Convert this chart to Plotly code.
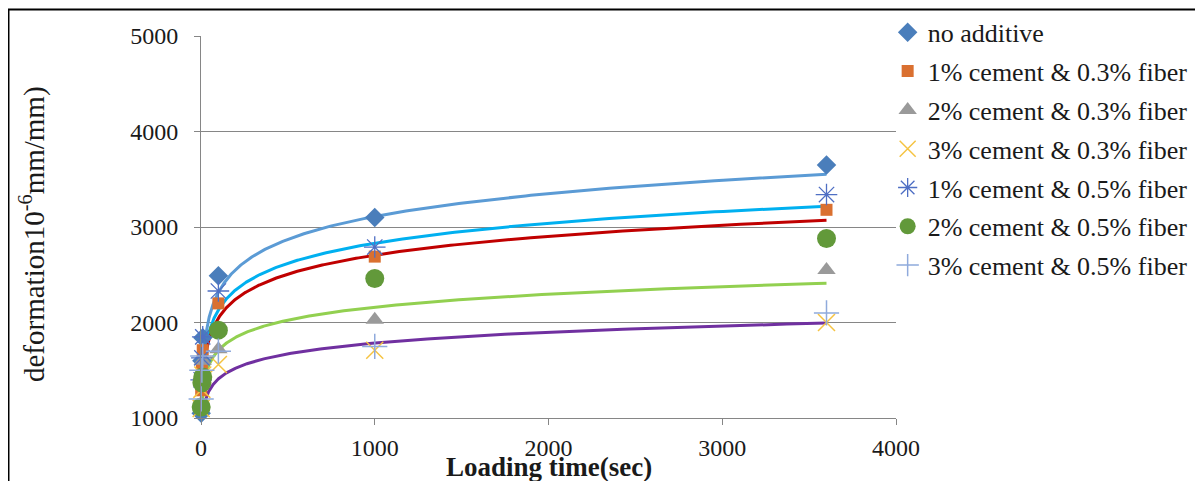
import numpy as np
import plotly.graph_objects as go

# ---- data ----
times = [1, 5, 10, 100, 1000, 3600]

series_names = [
    "no additive",
    "1% cement & 0.3% fiber",
    "2% cement & 0.3% fiber",
    "3% cement & 0.3% fiber",
    "1% cement & 0.5% fiber",
    "2% cement & 0.5% fiber",
    "3% cement & 0.5% fiber",
]
no_additive = [1050, 1600, 1840, 2490, 3100, 3650]
c1_f03 = [1290, 1520, 1710, 2200, 2690, 3180]
c2_f03 = [1150, 1450, 1600, 1720, 2030, 2550]
c3_f03 = [1100, 1300, 1450, 1560, 1710, 2000]
c1_f05 = [1400, 1630, 1850, 2330, 2790, 3340]
c2_f05 = [1115, 1370, 1430, 1920, 2460, 2880]
c3_f05 = [1200, 1500, 1650, 1700, 1750, 2100]

# logarithmic trend lines (y = a*ln(t) + b)
trend_series = ["no additive", "1% cement & 0.5% fiber", "1% cement & 0.3% fiber",
                "2% cement & 0.3% fiber", "3% cement & 0.3% fiber"]
trend_a = [345, 303, 286, 196, 163]
trend_b = [727, 737, 729, 807, 659]

x_ticks = [0, 1000, 2000, 3000, 4000]
y_ticks = [1000, 2000, 3000, 4000, 5000]

# ---- styles ----
marker_styles = [
    dict(symbol="diamond", size=15, color="#4A7EBB"),
    dict(symbol="square", size=12, color="#DA7030"),
    dict(symbol="triangle-up", size=16, color="#9A9A9A"),
    dict(symbol="x-thin-open", size=17, color="#F5C342", line=dict(width=1.5, color="#F5C342")),
    dict(symbol="asterisk-open", size=18, color="#4F6FC4", line=dict(width=1.3, color="#4F6FC4")),
    dict(symbol="circle", size=19, color="#62993A"),
    dict(symbol="cross-thin-open", size=18, color="#8FAADC", line=dict(width=1.5, color="#8FAADC")),
]
trend_colors = ["#5B9BD5", "#00B0F0", "#C00000", "#92D050", "#7030A0"]

values = [no_additive, c1_f03, c2_f03, c3_f03, c1_f05, c2_f05, c3_f05]

fig = go.Figure()

# trend lines first (drawn beneath markers)
t_grid = np.geomspace(min(times), max(times), 500)
for name, a, b, col in zip(trend_series, trend_a, trend_b, trend_colors):
    fig.add_trace(go.Scatter(
        x=t_grid, y=a * np.log(t_grid) + b, mode="lines",
        line=dict(color=col, width=3), showlegend=False, hoverinfo="skip",
    ))

for i, (name, vals, ms) in enumerate(zip(series_names, values, marker_styles)):
    fig.add_trace(go.Scatter(
        x=times, y=vals, mode="markers", name=name, marker=ms,
        cliponaxis=False, legendgroup=f"g{i}",
    ))

font_family = "Liberation Serif"

# page body has an 8px margin, so the figure is laid out 8px up/left of the window
fig.update_layout(
    width=1195, height=473,
    margin=dict(l=193, r=307, t=28, b=63, autoexpand=False),
    paper_bgcolor="white", plot_bgcolor="white",
    font=dict(family=font_family, size=24, color="#1a1a1a"),
    showlegend=True,
    legend=dict(
        x=0.988, y=1.071, xanchor="left", yanchor="top",
        font=dict(family=font_family, size=26, color="#1a1a1a"),
        tracegroupgap=2, traceorder="grouped", maxheight=600,
        itemwidth=30, bgcolor="rgba(0,0,0,0)",
    ),
    xaxis=dict(
        range=[0, 4000], tickvals=x_ticks, ticktext=[str(v) for v in x_ticks],
        showgrid=False, zeroline=False, showline=True, linecolor="#868686", linewidth=1,
        ticks="outside", ticklen=6, tickcolor="#868686",
        tickfont=dict(family=font_family, size=24), ticklabelstandoff=2,
    ),
    yaxis=dict(
        range=[1000, 5000], tickvals=y_ticks, ticktext=[str(v) for v in y_ticks],
        showgrid=True, gridcolor="#868686", gridwidth=1, zeroline=False,
        showline=True, linecolor="#868686", linewidth=1,
        ticks="outside", ticklen=6, tickcolor="#868686",
        tickfont=dict(family=font_family, size=24), ticklabelstandoff=11,
    ),
    annotations=[
        dict(text="deformation10<sup>-6</sup>mm/mm)", xref="paper", yref="paper",
             x=-0.2417, y=0.4817, textangle=-90, showarrow=False,
             font=dict(family=font_family, size=29, color="#1a1a1a"),
             xanchor="center", yanchor="middle"),
        dict(text="<b>Loading time(sec)</b>", xref="paper", yref="paper",
             x=0.5, y=-0.128, showarrow=False,
             font=dict(family=font_family, size=27, color="#1a1a1a"),
             xanchor="center", yanchor="middle"),
    ],
    shapes=[
        dict(type="rect", xref="paper", yref="paper",
             x0=-0.277, x1=1.47, y0=-0.3, y1=1.0694,
             line=dict(color="black", width=2), fillcolor="rgba(0,0,0,0)", layer="below"),
    ],
)

fig.write_html("out.html")
